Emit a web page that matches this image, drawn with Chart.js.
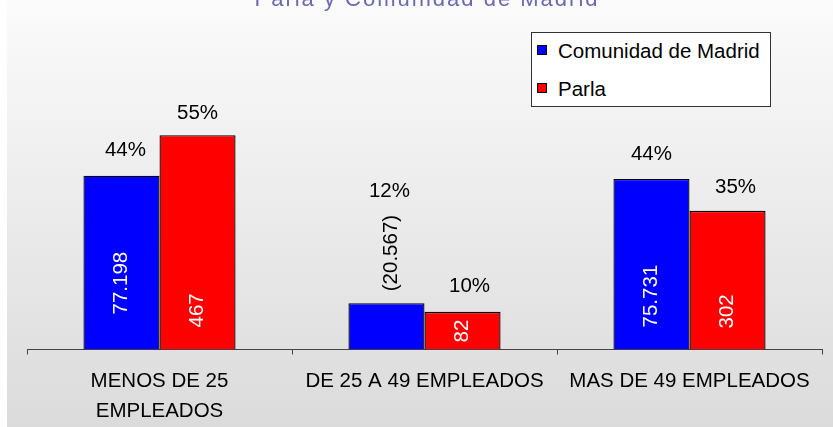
<!DOCTYPE html>
<html>
<head>
<meta charset="utf-8">
<script src="https://cdn.jsdelivr.net/npm/chart.js@4.4.0/dist/chart.umd.min.js"></script>
<style>
  body { margin: 0; background: #fff; }
  #panel {
    position: absolute; left: 7px; top: 0; width: 826px; height: 427px;
    background: linear-gradient(#fbfbfb, #dbdbdb);
    overflow: hidden;
    font-family: 'Liberation Sans', Arial, sans-serif;
  }
  #chart { position: absolute; left: 0; top: 0; }
  #title {
    position: absolute; left: 420px; top: -12px; transform: translateX(-50%);
    font-size: 22px; line-height: 22px; letter-spacing: 2px; white-space: nowrap;
    color: #6a6ab0;
  }
  #legend {
    position: absolute; left: 524px; top: 32px; width: 238px; height: 73px;
    background: #fff; border: 1px solid #333;
  }
  .item { position: absolute; left: 5px; height: 20px; font-size: 20.5px; line-height: 20px; color: #000; white-space: nowrap; }
  .item .box { position: absolute; left: 0; top: 4px; width: 8px; height: 8px; border: 1px solid #000; }
  .item .txt { position: absolute; left: 21px; top: 0; }
</style>
</head>
<body>
<div id="panel">
  <canvas id="chart" width="826" height="427"></canvas>
  <div id="title">Parla y Comunidad de Madrid</div>
  <div id="legend"></div>
</div>
<script>
// Chart data
const categories = [['MENOS DE 25', 'EMPLEADOS'], 'DE 25 A 49 EMPLEADOS', 'MAS DE 49 EMPLEADOS'];
const seriesNames = ['Comunidad de Madrid', 'Parla'];
const madridPct = [44.49, 11.85, 43.65];
const parlaPct = [54.88, 9.64, 35.49];
const madridCount = [77198, 20567, 75731];
const parlaCount = [467, 82, 302];

const colors = ['#0000ff', '#ff0000'];
const fontFamily = "'Liberation Sans', Arial, sans-serif";

// label nudges [dx, dy] for the % labels, and lift of the count labels
const pctNudge = [[[4, 20], [3, 18], [0, 19]], [[0, 16], [7, 20], [8, 18]]];
const countLift = [[35, 12, 22], [22, 7, 21]];

function fmtCount(n) {
    return String(n).replace(/\B(?=(\d{3})+(?!\d))/g, '.');
}

// Draw percentages over the bars and counts inside them
const barLabels = {
    id: 'barLabels',
    afterDatasetsDraw(chart) {
        const ctx = chart.ctx;
        const base = chart.scales.y.getPixelForValue(0);
        const counts = [madridCount, parlaCount];
        ctx.save();
        ctx.font = '20.5px ' + fontFamily;
        chart.data.datasets.forEach((ds, di) => {
            chart.getDatasetMeta(di).data.forEach((bar, i) => {
                let text = fmtCount(counts[di][i]);
                let w = ctx.measureText(text).width;
                const h = base - bar.y;
                let topRef = bar.y;

                ctx.save();
                ctx.textAlign = 'left';
                ctx.textBaseline = 'middle';
                if (w + 8 > h) {
                    // does not fit: put it above the bar, in brackets
                    text = '(' + text + ')';
                    w = ctx.measureText(text).width;
                    const y0 = bar.y - countLift[di][i];
                    ctx.translate(bar.x + 5, y0);
                    ctx.fillStyle = '#000';
                    topRef = y0 - w;
                } else {
                    let y0 = base - countLift[di][i];
                    if (w + 2 * countLift[di][i] > h) y0 = base - (h - w) / 2;
                    ctx.translate(bar.x, y0);
                    ctx.fillStyle = '#fff';
                }
                ctx.rotate(-Math.PI / 2);
                ctx.fillText(text, 0, 0);
                ctx.restore();

                const [dx, dy] = pctNudge[di][i];
                ctx.fillStyle = '#000';
                ctx.textAlign = 'center';
                ctx.textBaseline = 'alphabetic';
                ctx.fillText(Math.round(ds.data[i]) + '%', bar.x + dx, topRef - dy);
            });
        });
        ctx.restore();
    }
};

const chart = new Chart(document.getElementById('chart').getContext('2d'), {
    type: 'bar',
    data: {
        labels: categories,
        datasets: [{
            label: seriesNames[0],
            data: madridPct,
            backgroundColor: colors[0],
            borderColor: '#000',
            borderWidth: 1.3
        }, {
            label: seriesNames[1],
            data: parlaPct,
            backgroundColor: colors[1],
            borderColor: '#000',
            borderWidth: 1.3
        }]
    },
    options: {
        responsive: false,
        animation: false,
        devicePixelRatio: 1,
        categoryPercentage: 0.574,
        barPercentage: 1,
        layout: {
            padding: { left: 20, right: 11, top: 37, bottom: -11 }
        },
        scales: {
            x: {
                offset: true,
                grid: {
                    display: true,
                    drawOnChartArea: false,
                    drawTicks: true,
                    tickLength: 5,
                    color: '#444',
                    offset: true
                },
                border: { display: true, color: '#444', width: 1 },
                ticks: {
                    color: '#000',
                    font: { family: fontFamily, size: 20.5, lineHeight: 1.5 },
                    padding: 11,
                    maxRotation: 0,
                    autoSkip: false
                }
            },
            y: {
                display: false,
                min: 0,
                max: 80
            }
        },
        plugins: {
            legend: { display: false },
            tooltip: { enabled: false }
        }
    },
    plugins: [barLabels]
});

// Legend in the top-right box
const legend = document.getElementById('legend');
seriesNames.forEach((name, i) => {
    const item = document.createElement('div');
    item.className = 'item';
    item.style.top = (8 + i * 38) + 'px';
    item.innerHTML = '<span class="box" style="background:' + colors[i] + '"></span><span class="txt"></span>';
    item.querySelector('.txt').textContent = name;
    legend.appendChild(item);
});
</script>
</body>
</html>
